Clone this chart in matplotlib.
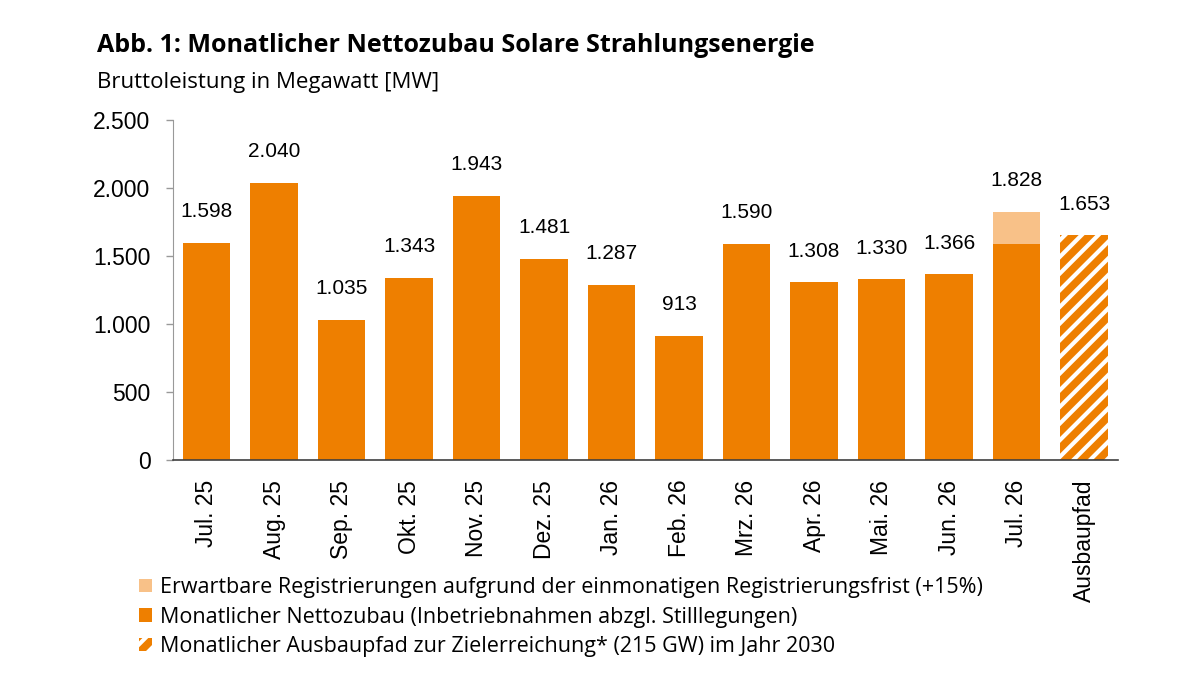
import matplotlib
import matplotlib.pyplot as plt
import numpy as np
from matplotlib.patches import Patch

matplotlib.use('Agg')
plt.rcParams['font.family'] = ['Open Sans', 'DejaVu Sans']
plt.rcParams['hatch.linewidth'] = 3.0

monate = ["Jul. 25", "Aug. 25", "Sep. 25", "Okt. 25", "Nov. 25", "Dez. 25",
          "Jan. 26", "Feb. 26", "Mrz. 26", "Apr. 26", "Mai. 26", "Jun. 26",
          "Jul. 26", "Ausbaupfad"]
nettozubau = [1598, 2040, 1035, 1343, 1943, 1481, 1287, 913, 1590, 1308,
              1330, 1366, 1590]
erwartet_gesamt = 1828  # inkl. +15% Registrierungen im Juli 26
ausbaupfad = 1653

orange = "#EE7F00"
hell = "#F8C188"
zahlen_font = ["Liberation Sans", "DejaVu Sans"]

fig = plt.figure(figsize=(12, 6.75), dpi=100)
ax = fig.add_axes([0.144, 0.318, 0.7875, 0.504])

x = np.arange(len(monate))
breite = 0.7
ax.bar(x[:len(nettozubau)], nettozubau, width=breite, color=orange)
ax.bar(x[12], erwartet_gesamt - nettozubau[12], bottom=nettozubau[12],
       width=breite, color=hell)
ax.bar(x[13], ausbaupfad, width=breite, color=orange, hatch="//",
       edgecolor="white", linewidth=0)

werte = nettozubau[:12] + [erwartet_gesamt, ausbaupfad]
for xi, w in zip(x, werte):
    ax.text(xi, w + 230, f"{w:,}".replace(",", "."), ha="center", va="center",
            fontsize=15, family=zahlen_font)

ax.set_ylim(0, 2500)
ax.set_xlim(-0.5, 13.5)
ax.set_yticks([0, 500, 1000, 1500, 2000, 2500])
ax.set_yticklabels(["0", "500", "1.000", "1.500", "2.000", "2.500"],
                   fontsize=16.5, family=zahlen_font)
ax.set_xticks(x)
ax.set_xticklabels(monate, rotation=90, fontsize=16.5, family=zahlen_font)
ax.tick_params(axis="x", length=0, pad=14)
ax.tick_params(axis="y", length=5, width=1, color="#999999", pad=11)
for s in ["top", "right"]:
    ax.spines[s].set_visible(False)
ax.spines["left"].set_color("#999999")
ax.spines["bottom"].set_color("#404040")
ax.spines["bottom"].set_linewidth(1.2)

fig.text(0.081, 0.933, "Abb. 1: Monatlicher Nettozubau Solare Strahlungsenergie",
         fontsize=18, fontweight="bold", va="center")
fig.text(0.081, 0.878, "Bruttoleistung in Megawatt [MW]", fontsize=16, va="center")

handles = [
    Patch(facecolor=hell, edgecolor="none"),
    Patch(facecolor=orange, edgecolor="none"),
    Patch(facecolor=orange, edgecolor="white", hatch="//", linewidth=0),
]
labels = [
    "Erwartbare Registrierungen aufgrund der einmonatigen Registrierungsfrist (+15%)",
    "Monatlicher Nettozubau (Inbetriebnahmen abzgl. Stilllegungen)",
    "Monatlicher Ausbaupfad zur Zielerreichung* (215 GW) im Jahr 2030",
]
fig.legend(handles, labels, loc="upper left", bbox_to_anchor=(0.109, 0.158),
           frameon=False, fontsize=15.5, handlelength=0.6, handleheight=0.6,
           handletextpad=0.35, labelspacing=0.4, borderaxespad=0,
           bbox_transform=fig.transFigure)

plt.savefig("out.png", dpi=100)
